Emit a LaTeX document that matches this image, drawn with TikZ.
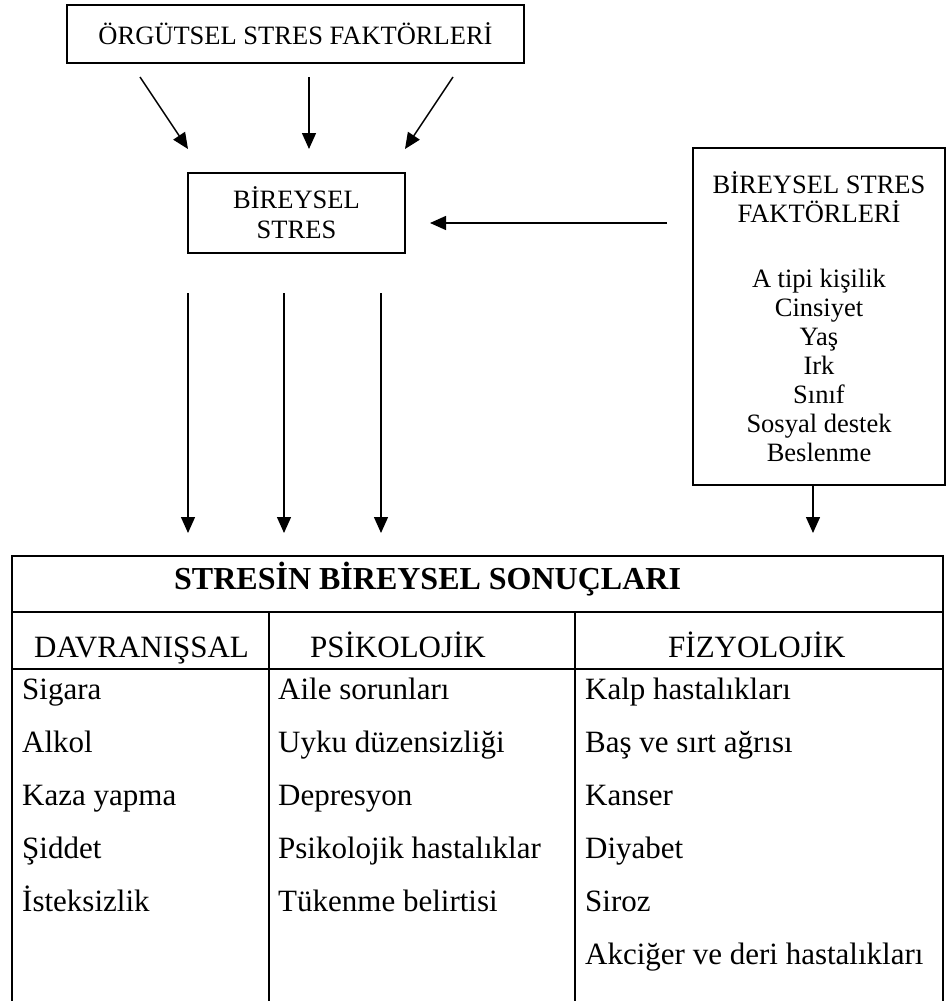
\documentclass[tikz,border=0pt]{standalone}
\usepackage{fontspec}
\setmainfont{Liberation Serif}
\usetikzlibrary{arrows.meta}
\begin{document}
\begin{tikzpicture}[x=1pt,y=-1pt,
  box/.style={draw,line width=1.6pt,inner sep=0pt,align=center,font=\fontsize{26.5}{30}\selectfont},
  arr/.style={line width=1.4pt,-{Triangle[length=16pt,width=14pt]}},
  tline/.style={line width=2pt},
  cell/.style={anchor=base west,inner sep=0pt,font=\fontsize{31}{36}\selectfont},
  title/.style={anchor=base west,inner sep=0pt,font=\fontsize{32}{36}\selectfont\bfseries}]
\useasboundingbox (0,0) rectangle (947,1001);
\fill[white] (0,0) rectangle (947,1001);

% boxes
\node[box,minimum width=457pt,minimum height=58pt] (org) at (295.5,34) {ÖRGÜTSEL STRES FAKTÖRLERİ};
\node[box,minimum width=217pt,minimum height=80pt] (bs) at (296.5,213) {BİREYSEL\\STRES};
\node[box,minimum width=252pt,minimum height=337pt,font=\fontsize{26.5}{29}\selectfont] (bsf) at (819,316.5)
  {BİREYSEL STRES\\FAKTÖRLERİ\\[36pt]A tipi kişilik\\Cinsiyet\\Yaş\\Irk\\Sınıf\\Sosyal destek\\Beslenme};

% arrow coordinates
\coordinate (s1) at (140,77);  \coordinate (t1) at (188,149);
\coordinate (s2) at (309,77);  \coordinate (t2) at (309,149);
\coordinate (s3) at (453,77);  \coordinate (t3) at (405,149);
\coordinate (hs) at (667,223); \coordinate (ht) at (430,223);
\coordinate (d1) at (188,293); \coordinate (e1) at (188,533);
\coordinate (d2) at (284,293); \coordinate (e2) at (284,533);
\coordinate (d3) at (381,293); \coordinate (e3) at (381,533);
\coordinate (e4) at (813,533);

\draw[arr] (s1) -- (t1);
\draw[arr] (s2) -- (t2);
\draw[arr] (s3) -- (t3);
\draw[arr] (hs) -- (ht);
\draw[arr] (d1) -- (e1);
\draw[arr] (d2) -- (e2);
\draw[arr] (d3) -- (e3);
\draw[arr] (bsf.south -| e4) -- (e4);

% table
\draw[tline] (12,1001) -- (12,556) -- (943,556) -- (943,1001);
\draw[tline] (12,612) -- (943,612);
\draw[tline] (12,669) -- (943,669);
\draw[tline] (269,612) -- (269,1001);
\draw[tline] (575,612) -- (575,1001);

\node[title] (tt) at (174,589) {STRESİN BİREYSEL SONUÇLARI};
\node[cell] (h1) at (34,657) {DAVRANIŞSAL};
\node[cell] (h2) at (310,657) {PSİKOLOJİK};
\node[cell] (h3) at (668,657) {FİZYOLOJİK};

\node[cell] (a1) at (22,699) {Sigara};
\node[cell] (a2) at (22,752) {Alkol};
\node[cell] (a3) at (22,805) {Kaza yapma};
\node[cell] (a4) at (22,858) {Şiddet};
\node[cell] (a5) at (22,911) {İsteksizlik};

\node[cell] (b1) at (278,699) {Aile sorunları};
\node[cell] (b2) at (278,752) {Uyku düzensizliği};
\node[cell] (b3) at (278,805) {Depresyon};
\node[cell] (b4) at (278,858) {Psikolojik hastalıklar};
\node[cell] (b5) at (278,911) {Tükenme belirtisi};

\node[cell] (c1) at (585,699) {Kalp hastalıkları};
\node[cell] (c2) at (585,752) {Baş ve sırt ağrısı};
\node[cell] (c3) at (585,805) {Kanser};
\node[cell] (c4) at (585,858) {Diyabet};
\node[cell] (c5) at (585,911) {Siroz};
\node[cell] (c6) at (585,964) {Akciğer ve deri hastalıkları};
\end{tikzpicture}
\end{document}
